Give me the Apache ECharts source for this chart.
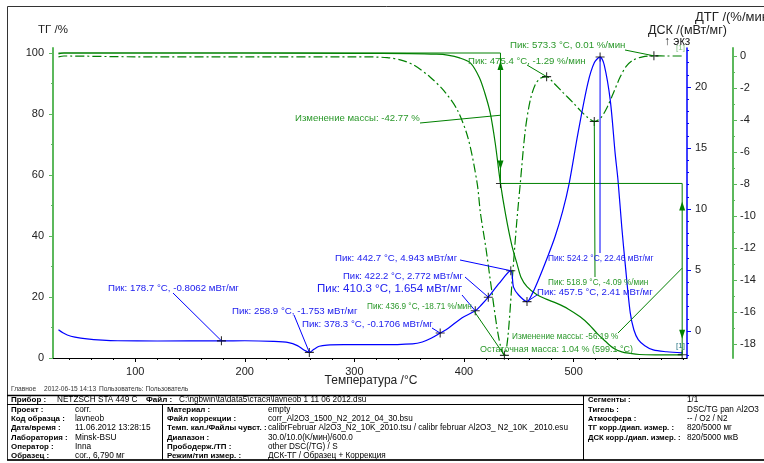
<!DOCTYPE html>
<html><head><meta charset="utf-8">
<script src="https://cdn.jsdelivr.net/npm/echarts@6/dist/echarts.min.js"></script>
<style>html,body{margin:0;padding:0;background:#fff}#c{width:764px;height:463px}</style>
</head><body><div id="c"></div>
<script>
// ---------- data ----------
const tgTemp = [30, 35, 100, 200, 300, 350, 375, 385, 396, 406, 414, 419, 424, 428.5, 433.3, 438, 443.6, 448.3, 452, 457.5, 466.6, 475, 484.8, 495, 506, 514, 521.4, 529, 536.5, 544, 551.7, 560, 575, 599.1];
const tgVal  = [99.7, 100, 100, 100, 99.9, 99.8, 99.6, 99.3, 98.4, 96.7, 92, 86.9, 80.3, 70.5, 57.23, 47, 37, 31, 26.5, 23.4, 20.7, 19.3, 17.9, 16.1, 13.5, 11.0, 8.1, 5.5, 3.2, 2.0, 1.5, 1.15, 1.05, 1.04];

const dtgTemp = [30, 35, 100, 200, 300, 330, 345, 355, 369, 382, 394, 404, 412, 415, 420, 424, 430.4, 434, 436.9, 440, 444, 448, 451.4, 456, 460.5, 465, 469.6, 475.4, 482, 490.6, 500, 506, 513, 518.9, 525, 530.7, 537, 542.6, 548, 554.5, 563, 573.3, 585, 599];
const dtgVal  = [-0.05, 0, -0.05, -0.05, -0.05, -0.1, -0.3, -0.6, -1.31, -2.2, -3.38, -5.2, -7.94, -9.8, -12, -14, -17.1, -18.3, -18.71, -17.6, -14, -10.5, -7.94, -4.6, -2.75, -1.8, -1.4, -1.29, -1.7, -2.3, -2.95, -3.4, -3.85, -4.09, -3.85, -3.2, -2.2, -1.3, -0.65, -0.25, -0.05, 0.01, 0.0, 0.0];

const dscTemp = [30, 34, 38, 45, 56, 70, 84, 120, 178.7, 200, 226, 240, 248, 254, 258.9, 263, 268, 275, 290, 323, 353, 362, 370, 378.3, 386, 398, 410.3, 416, 422.2, 432, 442.7, 445.2, 449.8, 457.5, 462, 468, 476, 483, 490, 496, 504, 513, 519, 524.2, 528, 533.5, 538, 540.5, 544, 547, 551.7, 555, 559, 565, 572.7, 585, 599.2];
const dscVal  = [0.1, -0.15, -0.33, -0.5, -0.65, -0.75, -0.8, -0.82, -0.806, -0.8, -0.85, -0.95, -1.2, -1.55, -1.753, -1.5, -1.25, -1.15, -1.12, -1.12, -1.05, -0.9, -0.6, -0.1706, 0.25, 1.07, 1.654, 2.15, 2.772, 3.9, 4.943, 3.6, 2.95, 2.41, 3.0, 4.2, 6.0, 7.7, 9.8, 12.1, 16.2, 20.3, 22.0, 22.46, 21.8, 18.9, 14.5, 12.4, 8.5, 5.6, 1.5, 0.1, -0.7, -1.2, -1.55, -1.7, -1.8];

const dscPeakT = [178.7, 258.9, 378.3, 410.3, 422.2, 442.7, 457.5, 524.2];
const dscPeakV = [-0.8062, -1.753, -0.1706, 1.654, 2.772, 4.943, 2.41, 22.46];
const dtgPeakT = [436.9, 475.4, 518.9, 573.3];
const dtgPeakV = [-18.71, -1.29, -4.09, 0.01];
const tgMarkT = [433.3, 599.1];
const tgMarkV = [57.23, 1.04];

const xTicks = [100, 200, 300, 400, 500];
const xMinor = [40,60,80,120,140,160,180,220,240,260,280,320,340,360,380,420,440,460,480,520,540,560,580,600];
const tgTicks = [0, 20, 40, 60, 80, 100];
const tgMinor = [10, 30, 50, 70, 90];
const dscTicks = [0, 5, 10, 15, 20];
const dscMinor = [-2,-1,1,2,3,4,6,7,8,9,11,12,13,14,16,17,18,19,21,22,23];
const dtgTicks = [0, -2, -4, -6, -8, -10, -12, -14, -16, -18];
const dtgMinor = [-1,-3,-5,-7,-9,-11,-13,-15,-17];

const dscPeakText = ['Пик: 178.7 °C, -0.8062 мВт/мг','Пик: 258.9 °C, -1.753 мВт/мг','Пик: 378.3 °C, -0.1706 мВт/мг','Пик: 410.3 °C, 1.654 мВт/мг','Пик: 422.2 °C, 2.772 мВт/мг','Пик: 442.7 °C, 4.943 мВт/мг','Пик: 457.5 °C, 2.41 мВт/мг','Пик: 524.2 °C, 22.46 мВт/мг'];
const dtgPeakText = ['Пик: 436.9 °C, -18.71 %/мин','Пик: 475.4 °C, -1.29 %/мин','Пик: 518.9 °C, -4.09 %/мин','Пик: 573.3 °C, 0.01 %/мин'];
const massText = ['Изменение массы: -42.77 %', 'Изменение массы: -56.19 %', 'Остаточная масса: 1.04 % (599.1 °C)'];

const zip = (a, b) => a.map((v, i) => [v, b[i]]);

// ---------- chart ----------
const FONT = 'Liberation Sans, Arial, sans-serif';
const GREEN = '#008000', GREEN_AX = '#5cb85c', BLUE = '#0000ff';
const GT = '#2a982a', BT = '#2020ee';
const X0 = 25, X1 = 603.5;
const TG = [0, 101.64], DSC = [-2.213, 23.197], DTG = [-18.875, 0.5];

function mainY(min, max, pos, offset, color, ticks, labelMargin, lw) {
  return { type: 'value', min, max, position: pos, offset, scale: true,
    axisLine: { show: true, onZero: false, lineStyle: { color, width: lw } },
    axisTick: { show: true, inside: false, length: 4, customValues: ticks, lineStyle: { color, width: 1 } },
    axisLabel: { show: true, customValues: ticks, margin: labelMargin, color: '#222', fontSize: 11, fontFamily: FONT },
    splitLine: { show: false } };
}
function minorY(min, max, pos, offset, color, ticks) {
  return { type: 'value', min, max, position: pos, offset, scale: true,
    axisLine: { show: false }, axisLabel: { show: false }, splitLine: { show: false },
    axisTick: { show: true, inside: false, length: 2, customValues: ticks, lineStyle: { color, width: 1 } } };
}

const option = {
  animation: false,
  backgroundColor: '#fff',
  grid: { left: 53, right: 77, top: 48, bottom: 105, containLabel: false },
  xAxis: [
    { type: 'value', min: X0, max: X1, position: 'bottom',
      axisLine: { onZero: false, lineStyle: { color: '#000', width: 1 } },
      axisTick: { customValues: xTicks, length: 4, lineStyle: { color: '#000' } },
      axisLabel: { customValues: xTicks, margin: 8, color: '#222', fontSize: 11, fontFamily: FONT },
      splitLine: { show: false } },
    { type: 'value', min: X0, max: X1, position: 'bottom',
      axisLine: { show: false }, axisLabel: { show: false }, splitLine: { show: false },
      axisTick: { customValues: xMinor, length: 2, lineStyle: { color: '#000' } } }
  ],
  yAxis: [
    mainY(TG[0], TG[1], 'left', 0, GREEN_AX, tgTicks, 9, 2),
    mainY(DSC[0], DSC[1], 'right', 0, BLUE, dscTicks, 8, 1.5),
    mainY(DTG[0], DTG[1], 'right', 46, GREEN_AX, dtgTicks, 7, 2),
    minorY(TG[0], TG[1], 'left', 0, GREEN_AX, tgMinor),
    minorY(DSC[0], DSC[1], 'right', 0, BLUE, dscMinor),
    minorY(DTG[0], DTG[1], 'right', 46, GREEN_AX, dtgMinor)
  ],
  series: [
    { name: 'ТГ', type: 'line', xAxisIndex: 0, yAxisIndex: 0, data: zip(tgTemp, tgVal), showSymbol: false, smooth: 0.3,
      lineStyle: { color: GREEN, width: 1.2 }, z: 3 },
    { name: 'ДТГ', type: 'line', xAxisIndex: 0, yAxisIndex: 2, data: zip(dtgTemp, dtgVal), showSymbol: false, smooth: 0.3,
      lineStyle: { color: GREEN, width: 1.2, type: [9, 3, 2, 3] }, z: 3 },
    { name: 'ДСК', type: 'line', xAxisIndex: 0, yAxisIndex: 1, data: zip(dscTemp, dscVal), showSymbol: false, smooth: 0.3,
      lineStyle: { color: BLUE, width: 1.2 }, z: 4 }
  ]
};
const PLUS = 'path://M4.4,0h1.2v4.4h4.4v1.2h-4.4v4.4h-1.2v-4.4h-4.4v-1.2h4.4z';
function marks(yIdx, T, V) {
  return { type: 'scatter', xAxisIndex: 0, yAxisIndex: yIdx, data: zip(T, V), symbol: PLUS, symbolSize: 9,
    itemStyle: { color: '#000' }, z: 10, silent: true };
}
option.series.push(marks(1, dscPeakT, dscPeakV), marks(2, dtgPeakT, dtgPeakV), marks(0, tgMarkT, tgMarkV));

const chart = echarts.init(document.getElementById('c'));
chart.setOption(option);

// ---------- annotations ----------
const g = [];
const px = (ax, t, v) => chart.convertToPixel({ xAxisIndex: 0, yAxisIndex: ax }, [t, v]);
function txt(x, y, s, color, size, weight, align) {
  g.push({ type: 'text', x, y, z: 20, style: { text: s, fill: color, fontSize: size, fontFamily: FONT,
    fontWeight: weight || 'normal', textAlign: align || 'left', textVerticalAlign: 'middle' } });
}
function line(p, q, color, w) {
  g.push({ type: 'line', z: 15, shape: { x1: p[0], y1: p[1], x2: q[0], y2: q[1] }, style: { stroke: color, lineWidth: w || 1 } });
}
function arrowHead(tip, dir, color) { // dir: -1 up, +1 down
  g.push({ type: 'polygon', z: 15, shape: { points: [tip, [tip[0] - 3, tip[1] - dir * 9], [tip[0] + 3, tip[1] - dir * 9]] }, style: { fill: color } });
}

// frame
g.push({ type: 'rect', z: 1, shape: { x: 7.5, y: 6.5, width: 800, height: 453.5 }, style: { fill: 'none', stroke: '#333', lineWidth: 1 } });

// axis titles
txt(38, 30, 'ТГ /%', '#222', 11.5);
txt(648, 31, 'ДСК /(мВт/мг)', '#222', 12.5);
txt(664, 42, '↑ экз', '#222', 12);
txt(695, 17, 'ДТГ /(%/мин)', '#222', 13);
txt(371, 381, 'Температура /°C', '#222', 12, 'normal', 'center');

// mass-change constructions
const tgStepT = tgMarkT[0], tgEndT = tgMarkT[1];
const pTop = px(0, tgStepT, 100), pStep = px(0, tgStepT, tgMarkV[0]);
line(px(0, 30, 100), pTop, GREEN, 1);
line(pTop, pStep, GREEN, 1);
arrowHead([pTop[0], pTop[1] + 8], -1, GREEN);
arrowHead([pStep[0], pStep[1] - 14], 1, GREEN);
const pR1 = px(0, tgEndT, tgMarkV[0]), pR2 = px(0, tgEndT, tgMarkV[1]);
line(pStep, pR1, GREEN, 1);
line(pR1, pR2, GREEN, 1);
arrowHead([pR1[0], pR1[1] + 18], -1, GREEN);
arrowHead([pR2[0], pR2[1] - 16], 1, GREEN);

// DSC peak labels + leaders
const dscLab = [[108, 288, 9.7], [232, 311, 9.7], [302, 324, 9.7], [317, 289, 11.5], [343, 276, 9.5], [335, 258, 9.7], [537, 292, 9.6], [548, 259, 8.4]];
const dscLead = [[173, 293], [294, 315], [432, 328], [462, 295], [465, 277], [460, 260], [537, 295], [600, 253]];
dscPeakT.forEach((t, i) => {
  txt(dscLab[i][0], dscLab[i][1], dscPeakText[i], BT, dscLab[i][2]);
  line(dscLead[i], px(1, t, dscPeakV[i]), BLUE, 1);
});
const dtgLab = [[367, 307, 8.2], [468, 61, 9.6], [548, 283, 8.2], [510, 45, 9.7]];
const dtgLead = [[474, 311], [527, 65], [595, 277], [625, 50]];
dtgPeakT.forEach((t, i) => {
  txt(dtgLab[i][0], dtgLab[i][1], dtgPeakText[i], GT, dtgLab[i][2]);
  line(dtgLead[i], px(2, t, dtgPeakV[i]), GREEN, 1);
});
txt(295, 118, massText[0], GT, 9.6);
line([420, 123], [pTop[0], (pTop[1] + pStep[1]) / 2 - 3], GREEN, 1);
txt(512, 337, massText[1], GT, 8.2);
line([618, 333], [pR1[0], (pR1[1] + pR2[1]) / 2 - 1], GREEN, 1);
txt(480, 350, massText[2], GT, 9);
txt(676, 346, '[1]', '#1f6f7f', 8);
txt(676, 48, '[1]', '#7fbf7f', 8);

// ---------- info block ----------
const B = '#000';
txt(11, 389, 'Главное', '#333', 6.6);
txt(44, 389, '2012-06-15 14:13', '#333', 6.6);
txt(99, 389, 'Пользователь: Пользователь', '#333', 6.6);
line([7, 395.5], [764, 395.5], B, 1.5);
line([7, 404.5], [583, 404.5], B, 1);
line([7, 460], [764, 460], B, 1.5);
line([162.5, 404.5], [162.5, 460], B, 1);
line([583.5, 395.5], [583.5, 460], B, 1);
txt(11, 400, 'Прибор :', B, 8, 'bold');
txt(57, 400, 'NETZSCH STA 449 C', B, 8.2);
txt(146, 400, 'Файл :', B, 8, 'bold');
txt(179, 400, 'C:\\ngbwin\\ta\\data5\\стася\\lavneob 1 11 06 2012.dsu', B, 8.2);
const rowsY = [409.5, 419, 428.2, 437.4, 446.6, 455.5];
const c1L = ['Проект :', 'Код образца :', 'Дата/время :', 'Лаборатория :', 'Оператор :', 'Образец :'];
const c1V = ['corr.', 'lavneob', '11.06.2012 13:28:15', 'Minsk-BSU', 'Inna', 'cor., 6,790 мг'];
const c2L = ['Материал :', 'Файл коррекции :', 'Темп. кал./Файлы чувст. :', 'Диапазон :', 'Прободерж./ТП :', 'Режим/тип измер. :'];
const c2V = ['empty', 'corr_Al2O3_1500_N2_2012_04_30.bsu', 'calibrFebruar Al2O3_N2_10K_2010.tsu / calibr februar Al2O3_ N2_10K _2010.esu', '30.0/10.0(K/мин)/600.0', 'other DSC(/TG) / S', 'ДСК-ТГ / Образец + Коррекция'];
const c3Y = [400, 409.5, 419, 428.2, 437.4];
const c3L = ['Сегменты :', 'Тигель :', 'Атмосфера :', 'ТГ корр./диап. измер. :', 'ДСК корр./диап. измер. :'];
const c3V = ['1/1', 'DSC/TG pan Al2O3', '-- / O2 / N2', '820/5000 мг', '820/5000 мкВ'];
rowsY.forEach((y, i) => {
  txt(11, y, c1L[i], B, 7.9, 'bold'); txt(75, y, c1V[i], B, 8.3);
  txt(167, y, c2L[i], B, 7.9, 'bold'); txt(268, y, c2V[i], B, 8.2);
});
c3Y.forEach((y, i) => { txt(588, y, c3L[i], B, 7.7, 'bold'); txt(687, y, c3V[i], B, 8.2); });

chart.setOption({ graphic: { elements: g } });
</script></body></html>
